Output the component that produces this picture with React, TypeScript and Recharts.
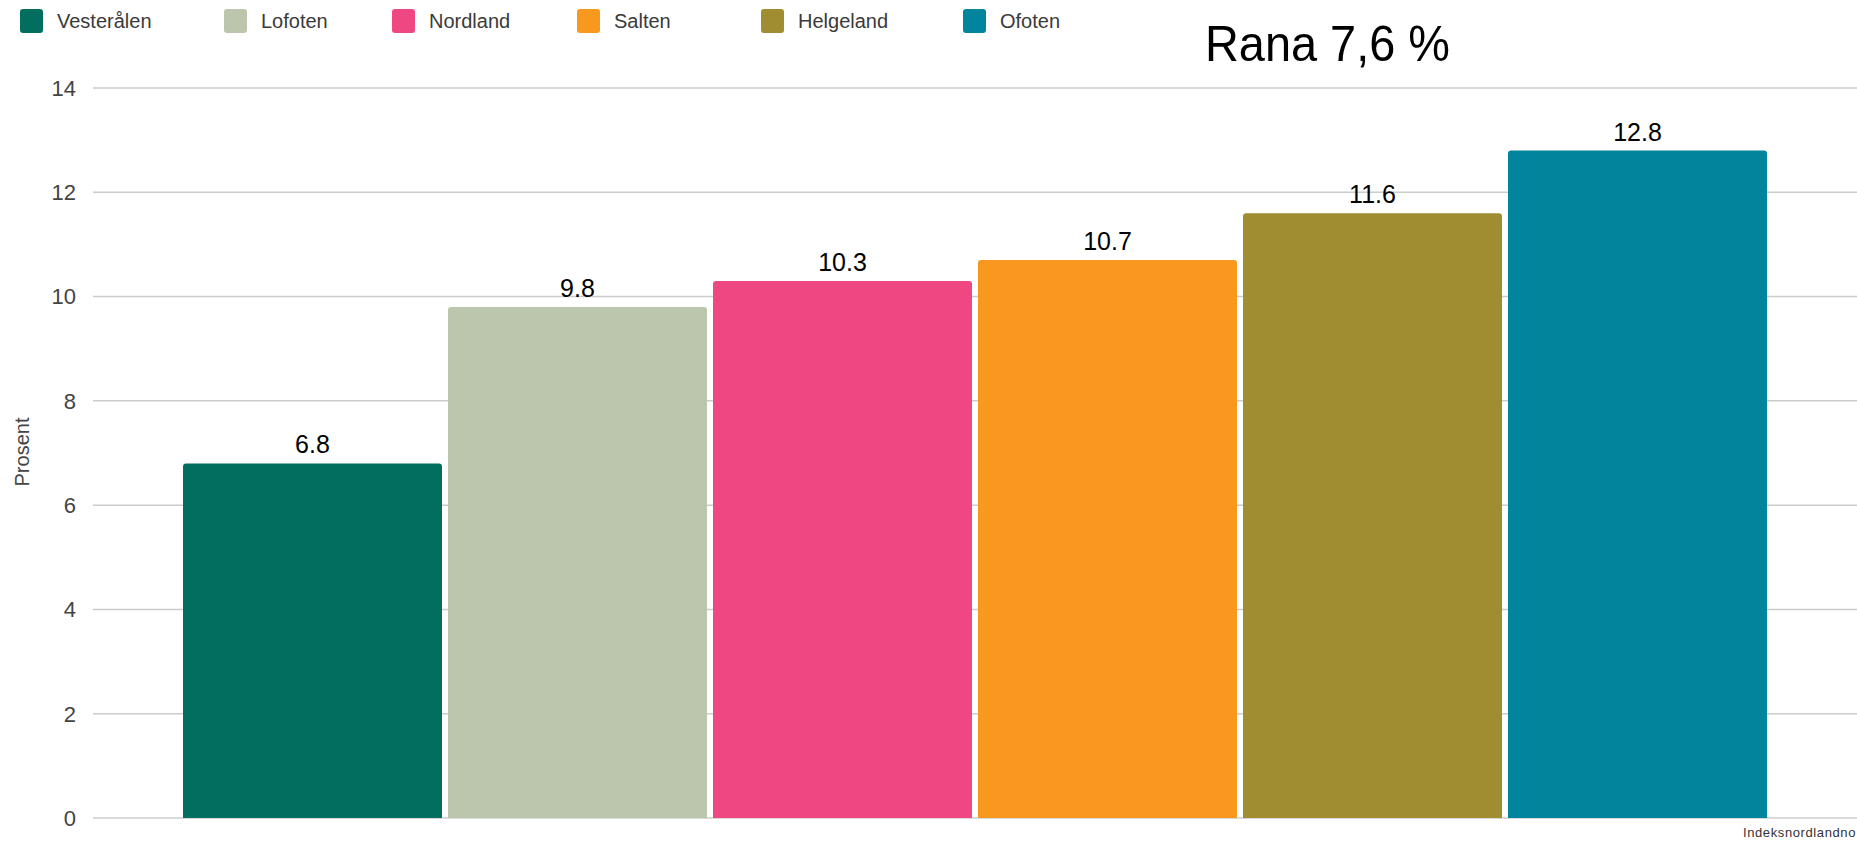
import React from 'react';
import { BarChart, Bar, XAxis, YAxis, CartesianGrid, Legend, LabelList } from 'recharts';

const REGIONS = ['Vesterålen', 'Lofoten', 'Nordland', 'Salten', 'Helgeland', 'Ofoten'];
const SHARES = [6.8, 9.8, 10.3, 10.7, 11.6, 12.8];
const COLORS = ['#016e5f', '#bbc6ac', '#ee4782', '#f8981f', '#a08c31', '#02849c'];
const Y_TICKS = [0, 2, 4, 6, 8, 10, 12, 14];
const CATEGORY = 'Rana';
const TITLE = 'Rana 7,6 %';
const Y_LABEL = 'Prosent';
const SOURCE = 'Indeksnordlandno';

// one category row, one series per region
const data = [
  REGIONS.reduce<Record<string, string | number>>(
    (row, region, i) => ({ ...row, [region]: SHARES[i] }),
    { name: CATEGORY }
  ),
];

const FONT = '"Liberation Sans", Arial, sans-serif';
const W = 1857;
const H = 843;
const LEGEND_LEFT = [20, 224, 392, 577, 761, 963];

const renderLegend = (props: any) => {
  // keep series order instead of the alphabetical default
  const items = [...(props.payload || [])].sort(
    (a: any, b: any) => REGIONS.indexOf(a.value) - REGIONS.indexOf(b.value)
  );
  return (
    <div style={{ position: 'relative', height: 40, width: 1100, fontFamily: FONT }}>
      {items.map((item: any, i: number) => (
        <div
          key={item.value}
          style={{
            position: 'absolute',
            left: LEGEND_LEFT[i],
            top: 9,
            height: 24,
            display: 'flex',
            alignItems: 'center',
          }}
        >
          <span
            style={{
              display: 'inline-block',
              width: 23,
              height: 24,
              borderRadius: 3,
              background: item.color,
            }}
          />
          <span style={{ marginLeft: 14, fontSize: 20, color: '#3a3a3a', whiteSpace: 'nowrap' }}>
            {item.value}
          </span>
        </div>
      ))}
    </div>
  );
};

export default function App() {
  return (
    <div style={{ position: 'absolute', left: 0, top: 0, width: W, height: H, background: '#fff', overflow: 'hidden' }}>
      <BarChart
        width={W}
        height={H}
        data={data}
        margin={{ top: 48, right: 0, bottom: 25, left: 0 }}
        barCategoryGap={90}
        barGap={6}
      >
        <CartesianGrid vertical={false} stroke="#cccccc" strokeWidth={1.5} />
        <XAxis dataKey="name" hide />
        <YAxis
          width={93}
          domain={[0, 14]}
          ticks={Y_TICKS}
          axisLine={false}
          tickLine={false}
          tickSize={0}
          tickMargin={17}
          tick={{ fill: '#444', fontSize: 22, fontFamily: FONT }}
        />
        <Legend
          verticalAlign="top"
          align="left"
          content={renderLegend}
          wrapperStyle={{ top: 0, left: 0, width: 1100, height: 40 }}
        />
        {REGIONS.map((region, i) => (
          <Bar
            key={region}
            dataKey={region}
            fill={COLORS[i]}
            radius={[3, 3, 0, 0]}
            isAnimationActive={false}
          >
            <LabelList
              dataKey={region}
              position="top"
              offset={10}
              fill="#000"
              fontSize={25}
              fontFamily={FONT}
            />
          </Bar>
        ))}
      </BarChart>
      <svg
        width={W}
        height={H}
        style={{ position: 'absolute', left: 0, top: 0, pointerEvents: 'none' }}
      >
        <text
          x={1327.5}
          y={61}
          textAnchor="middle"
          fontSize={50}
          fontFamily={FONT}
          fill="#000"
          textLength={245}
          lengthAdjust="spacingAndGlyphs"
        >
          {TITLE}
        </text>
        <text
          transform="rotate(-90)"
          x={-452}
          y={29}
          textAnchor="middle"
          fontSize={20}
          fontFamily={FONT}
          fill="#444"
        >
          {Y_LABEL}
        </text>
        <text x={1743} y={837} fontSize={13} fontFamily={FONT} fill="#333" letterSpacing={0.6}>
          {SOURCE}
        </text>
      </svg>
    </div>
  );
}
